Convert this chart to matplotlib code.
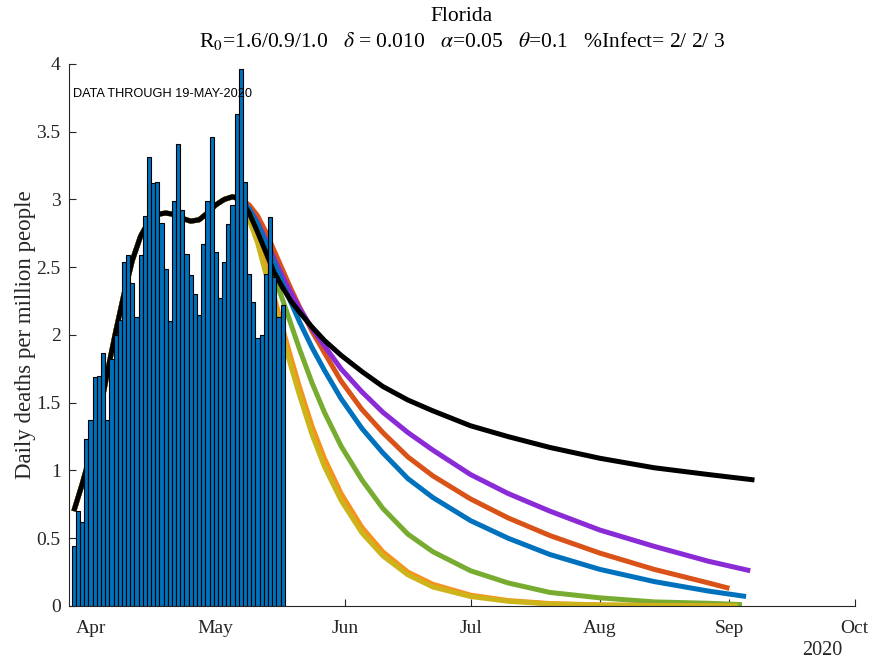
import numpy as np
import matplotlib
matplotlib.use("Agg")
import matplotlib.pyplot as plt
from matplotlib.ticker import FuncFormatter

# daily deaths per million, one bar per day starting 28-Mar-2020
bar_start = np.datetime64("2020-03-28")
daily_deaths = [0.44, 0.70, 0.62, 1.23, 1.37, 1.69, 1.70, 1.87, 1.37, 1.82,
                2.00, 2.11, 2.54, 2.59, 2.38, 2.13, 2.59, 2.88, 3.31, 3.12,
                3.13, 2.83, 2.49, 2.10, 2.99, 3.41, 2.92, 2.60, 2.44, 2.30,
                2.15, 2.67, 2.99, 3.46, 2.61, 2.27, 2.54, 2.82, 2.96, 3.63,
                3.96, 3.13, 2.45, 2.24, 1.98, 2.00, 2.45, 2.87, 2.43, 2.13,
                2.22]

# model fit (days after 1-Apr-2020), shared by all scenarios
fit_day = [-4, -2, 0, 2, 4, 6, 8, 10, 12, 14, 16, 18, 20, 22, 24, 26, 28, 30, 32, 34]
fit_val = [0.70, 0.90, 1.12, 1.40, 1.72, 2.02, 2.30, 2.55, 2.73, 2.84, 2.89, 2.90,
           2.89, 2.86, 2.84, 2.85, 2.90, 2.96, 3.00, 3.02]

# projections from 7-May onward (last entry of each list is at its own end day)
proj_day = [36, 38, 40, 42, 44, 46, 48, 50, 53, 56, 60, 65, 70, 76, 82, 91,
            100, 110, 122, 135, 148]
black_end = 159
black_tail = [3.00, 2.90, 2.76, 2.61, 2.46, 2.35, 2.25, 2.17, 2.06, 1.96, 1.85, 1.73,
              1.62, 1.52, 1.44, 1.33, 1.25, 1.17, 1.09, 1.02, 0.97, 0.93]
red_end = 153
red_tail = [3.00, 2.96, 2.88, 2.76, 2.62, 2.48, 2.34, 2.21, 2.03, 1.87, 1.66, 1.45,
            1.28, 1.10, 0.96, 0.79, 0.65, 0.52, 0.39, 0.27, 0.17, 0.13]
purple_end = 158
purple_tail = [3.00, 2.93, 2.83, 2.70, 2.56, 2.43, 2.31, 2.20, 2.05, 1.92, 1.75, 1.58,
               1.43, 1.28, 1.15, 0.97, 0.83, 0.70, 0.56, 0.44, 0.33, 0.26]
blue_end = 157
blue_tail = [3.00, 2.93, 2.82, 2.68, 2.53, 2.38, 2.24, 2.10, 1.91, 1.74, 1.53, 1.31,
             1.13, 0.94, 0.80, 0.63, 0.50, 0.38, 0.27, 0.18, 0.11, 0.07]
green_end = 156
green_tail = [3.00, 2.90, 2.76, 2.60, 2.43, 2.26, 2.08, 1.90, 1.65, 1.43, 1.18, 0.93,
              0.72, 0.53, 0.40, 0.26, 0.17, 0.10, 0.06, 0.03, 0.02, 0.01]
orange_end = 153
orange_tail = [3.00, 2.87, 2.71, 2.50, 2.28, 2.05, 1.83, 1.62, 1.33, 1.09, 0.83, 0.58,
               0.40, 0.25, 0.16, 0.08, 0.04, 0.018, 0.008, 0.004, 0.002, 0.001]
yellow_end = 155
yellow_tail = [3.00, 2.85, 2.68, 2.45, 2.22, 1.99, 1.77, 1.56, 1.27, 1.03, 0.78, 0.54,
               0.37, 0.23, 0.14, 0.07, 0.035, 0.015, 0.007, 0.003, 0.001, 0.001]

month_labels = ["Apr", "May", "Jun", "Jul", "Aug", "Sep", "Oct"]

plt.rcParams["font.family"] = "Liberation Serif"
plt.rcParams["mathtext.fontset"] = "stix"

apr1 = np.datetime64("2020-04-01")


def to_dates(days):
    return apr1 + np.array(days, dtype="timedelta64[D]")


fig = plt.figure(figsize=(8.73, 6.63), dpi=100)
ax = fig.add_axes([0.079, 0.086, 0.900, 0.8175])

scenarios = [
    (red_end, red_tail, "#D95319"),
    (purple_end, purple_tail, "#8A2BD6"),
    (blue_end, blue_tail, "#0072BD"),
    (green_end, green_tail, "#77AC30"),
    (orange_end, orange_tail, "#F5921E"),
    (yellow_end, yellow_tail, "#CDB41B"),
    (black_end, black_tail, "black"),
]
for end, tail, col in scenarios:
    days = fit_day + proj_day + [end]
    vals = fit_val + tail
    ax.plot(to_dates(days), vals, color=col, lw=3.6, solid_capstyle="butt",
            solid_joinstyle="round", zorder=2)

bar_dates = bar_start + np.arange(len(daily_deaths)).astype("timedelta64[D]")
ax.bar(bar_dates, daily_deaths, width=1.0, color="#0072BD", edgecolor="black",
       linewidth=0.8, zorder=3)

ax.set_xlim(np.datetime64("2020-03-26T20:00"), np.datetime64("2020-10-01"))
ax.set_ylim(0, 4)
ax.set_yticks(np.arange(0, 4.01, 0.5))
ax.yaxis.set_major_formatter(FuncFormatter(lambda v, p: "%g" % v))
ticks = to_dates([0, 30, 61, 91, 122, 153, 183])
ax.set_xticks(ticks)
ax.set_xticklabels(month_labels)

for s in ["top", "right"]:
    ax.spines[s].set_visible(False)
for s in ["left", "bottom"]:
    ax.spines[s].set_color("#262626")
    ax.spines[s].set_linewidth(0.8)
ax.tick_params(direction="in", length=5, width=0.8, colors="#262626",
               labelsize=14)
ax.tick_params(axis="x", pad=10)
ax.tick_params(axis="y", pad=6)

ax.set_ylabel("Daily deaths per million people", fontsize=16.5, color="#262626",
              labelpad=0)
ax.set_title("Florida\n"
             r"R$_0$=1.6/0.9/1.0   $\delta$ = 0.010   $\alpha$=0.05   $\theta$=0.1   %Infect= 2/ 2/ 3",
             fontsize=15.5, color="black", linespacing=1.25, pad=12)

ax.text(0.005, 0.955, "DATA THROUGH 19-MAY-2020", transform=ax.transAxes,
        fontsize=9.2, family="Liberation Sans", va="top", ha="left")
fig.text(0.942, 0.012, "2020", fontsize=14.5, color="#262626", ha="center")

fig.savefig("out.png", dpi=100)
